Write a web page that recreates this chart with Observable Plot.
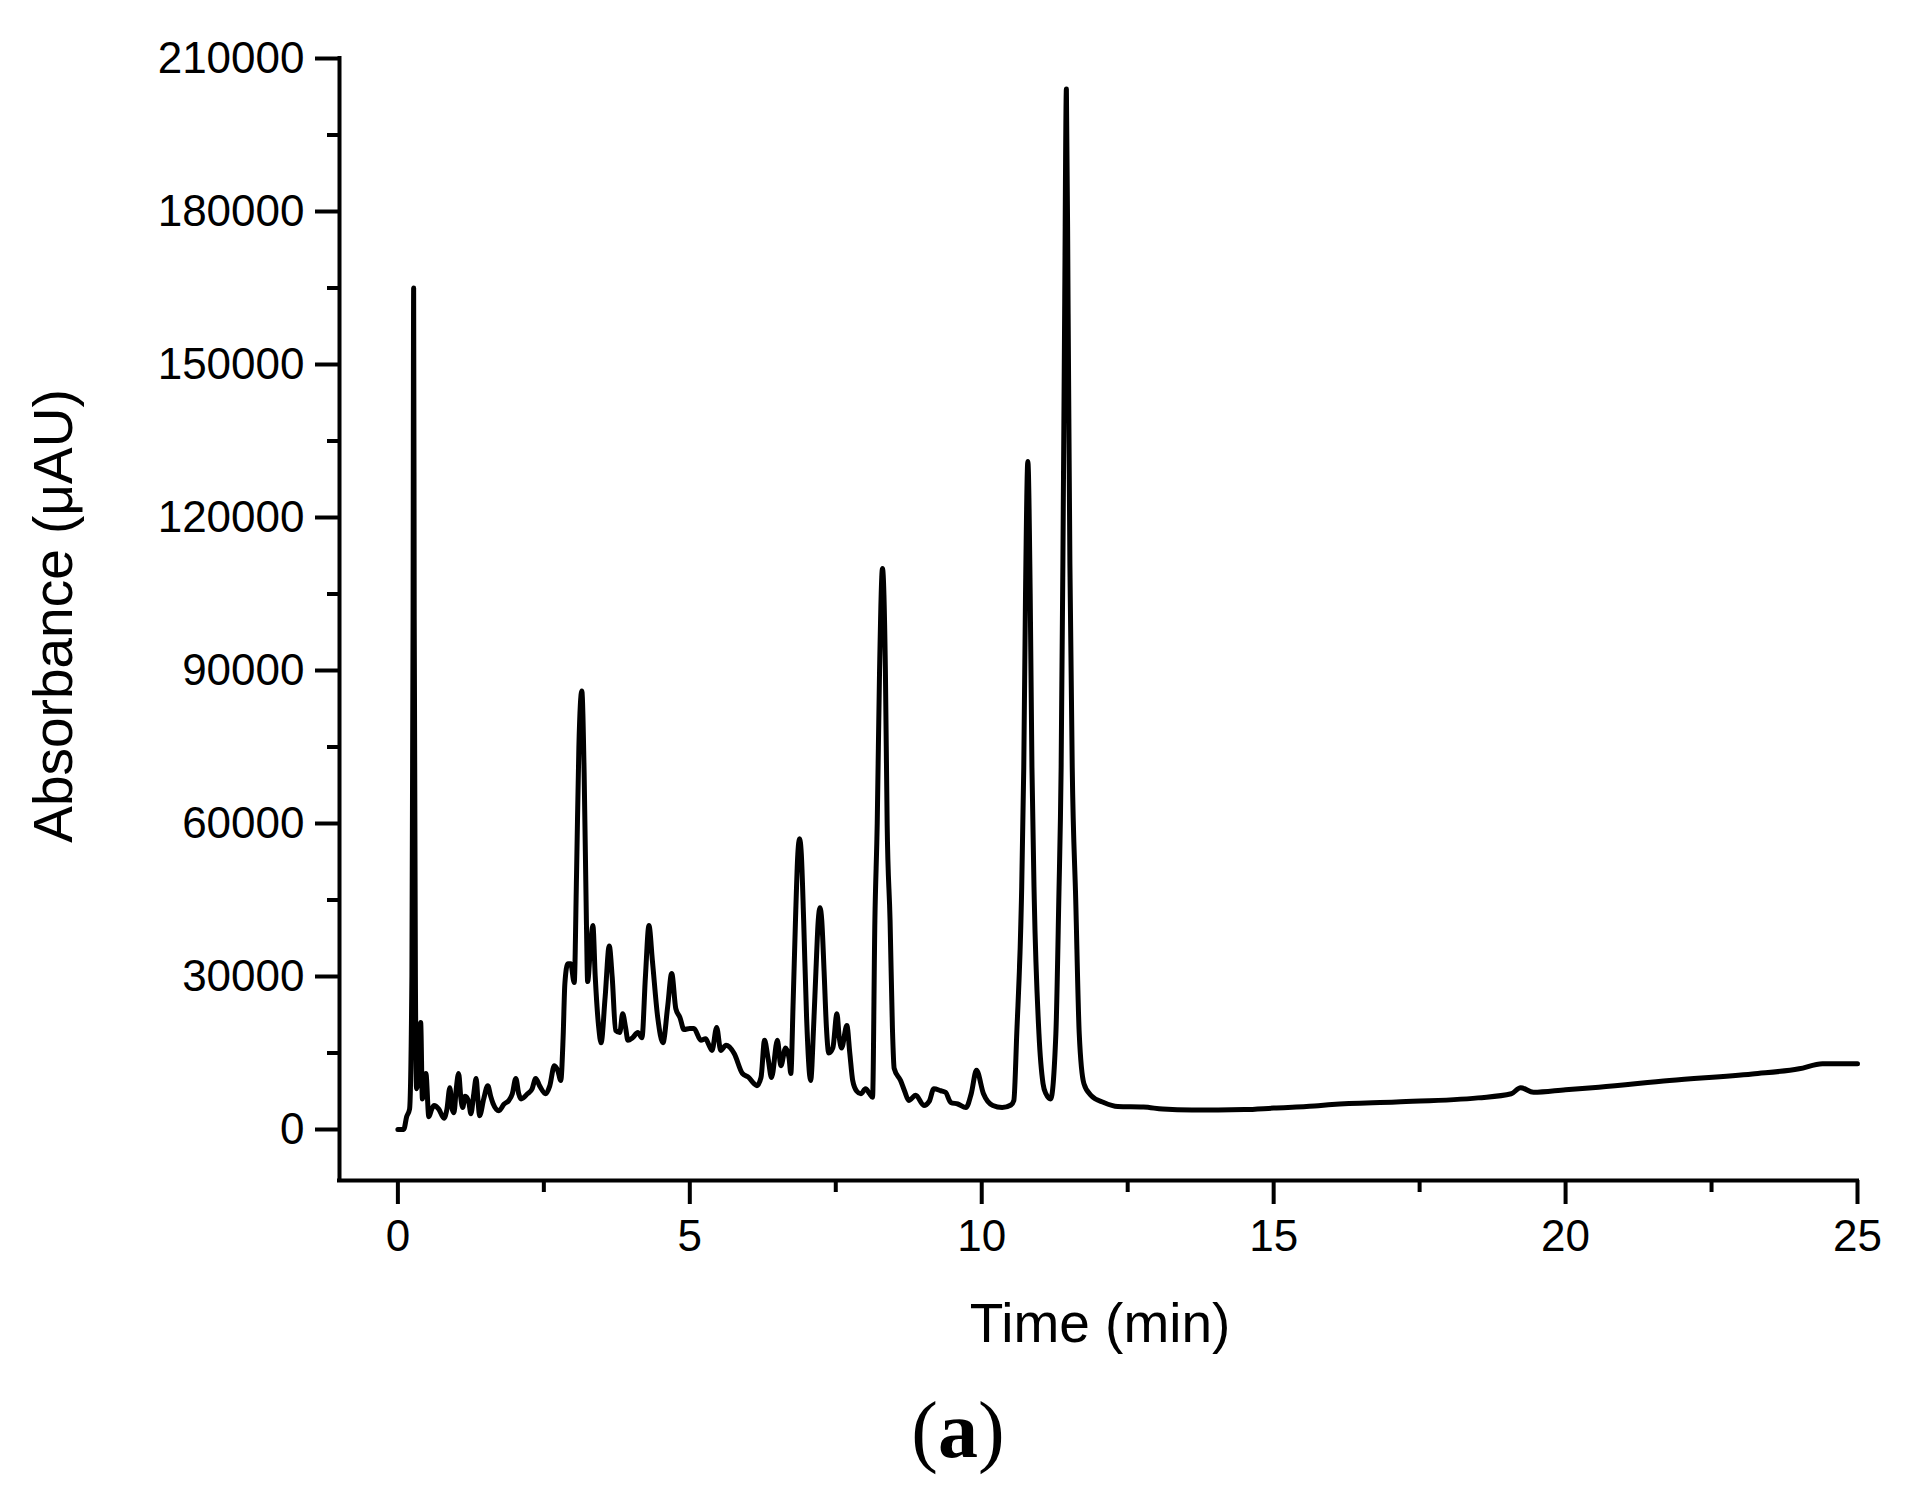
<!DOCTYPE html>
<html><head><meta charset="utf-8">
<script src="https://cdn.jsdelivr.net/npm/d3@7"></script>
<script src="https://cdn.jsdelivr.net/npm/@observablehq/plot@0.6"></script>
<style>
body{margin:0;background:#fff;}
#chart svg{display:block;}
#cap{width:1916px;text-align:center;font-family:"Liberation Serif","Times New Roman",serif;font-size:80px;line-height:80px;height:106px;color:#000;}
#cap b{font-weight:bold;}
</style></head><body>
<div id="chart"></div>
<div id="cap">(<b>a</b>)</div>
<script>
// Retention time (min)
const time = [
 0.00,0.10,0.15,0.20,0.24,0.26,0.27,0.28,0.30,0.32,0.36,0.39,0.42,0.45,0.48,0.53,0.58,0.62,0.70,0.79,
 0.84,0.89,0.93,0.96,1.00,1.04,1.08,1.11,1.15,1.18,1.22,1.25,1.30,1.34,1.37,1.40,1.47,1.54,1.59,1.63,
 1.73,1.82,1.90,1.96,2.02,2.07,2.11,2.22,2.30,2.36,2.43,2.53,2.60,2.68,2.74,2.79,2.83,2.86,2.91,2.96,
 3.02,3.06,3.10,3.15,3.19,3.23,3.25,3.30,3.34,3.38,3.44,3.48,3.55,3.62,3.67,3.73,3.80,3.85,3.90,3.94,
 4.02,4.11,4.18,4.24,4.30,4.36,4.45,4.54,4.62,4.69,4.76,4.83,4.90,5.00,5.07,5.19,5.27,5.33,5.38,5.46,
 5.53,5.62,5.76,5.90,6.01,6.10,6.15,6.22,6.28,6.34,6.40,6.50,6.56,6.64,6.70,6.73,6.77,6.81,6.85,6.88,
 6.91,6.95,7.00,7.07,7.12,7.16,7.20,7.23,7.26,7.30,7.34,7.38,7.45,7.52,7.56,7.60,7.69,7.74,7.79,7.86,
 7.93,8.01,8.08,8.13,8.17,8.21,8.25,8.30,8.35,8.38,8.43,8.47,8.50,8.61,8.68,8.75,8.87,9.01,9.10,9.18,
 9.30,9.38,9.47,9.59,9.73,9.82,9.91,10.03,10.19,10.35,10.50,10.55,10.60,10.68,10.72,10.75,10.79,10.83,10.86,10.90,
 10.98,11.05,11.10,11.18,11.27,11.32,11.36,11.39,11.42,11.45,11.48,11.51,11.55,11.61,11.67,11.75,11.87,12.09,12.33,12.77,
 13.10,13.60,14.50,15.00,15.70,16.00,17.10,18.50,19.07,19.23,19.45,20.00,20.57,21.78,23.20,24.00,24.40,25.00
];
// Absorbance (µAU)
const absorbance = [
 0,0,2500,4000,30000,100000,165000,100000,30000,8000,12000,21000,6000,9000,11000,2500,4000,4700,4000,2200,
 4000,8200,4000,3300,8000,11000,6000,4300,6500,6300,5000,3100,7000,10000,6000,2700,6000,8600,6500,5100,
 3700,5000,5700,7000,10000,7000,6000,7000,8000,10000,8500,7000,8500,12500,11500,9600,18000,28600,32500,32500,
 28800,50000,75000,86000,70000,40000,29000,36000,40000,30000,20000,17000,26000,36000,30000,19400,19000,22700,20000,17500,
 18000,19000,18000,30000,40000,33000,22000,17000,24000,30600,23700,22000,19600,19800,19800,17500,17800,16500,15500,20000,
 15500,16500,14900,11000,10200,9000,8600,10200,17500,14000,10200,17500,12500,16000,14000,11000,25000,41000,54000,57000,
 54000,41000,22000,9600,20000,31000,41000,43500,41000,31000,20000,15000,16000,22700,18000,16000,20400,15000,9600,7500,
 7000,8000,7000,6300,41000,60000,90000,110000,90000,60000,41000,20000,12000,9600,7500,5700,6700,4700,5500,8000,
 7600,7300,5300,5000,4300,7000,11600,7000,4700,4300,4800,5700,18800,45000,71000,105000,131000,105000,71000,45000,
 18800,9000,7000,6000,18800,45000,71000,111000,160000,204000,160000,111000,71000,45000,18800,9000,6700,5300,4500,4400,
 4000,3800,3900,4200,4600,4900,5400,6200,7000,8200,7300,7800,8300,9600,10900,11900,12900,12900
];
const xTicks = [0, 5, 10, 15, 20, 25];
const xMinorTicks = [2.5, 7.5, 12.5, 17.5, 22.5];
const yTicks = [0, 30000, 60000, 90000, 120000, 150000, 180000, 210000];
const yMinorTicks = [15000, 45000, 75000, 105000, 135000, 165000, 195000];
const xDomain = [-1, 25];
const yDomain = [-10000, 210000];
const xLabel = "Time (min)";
const yLabel = "Absorbance (\u03bcAU)";

const data = time.map((t, i) => ({t, v: absorbance[i]}));
const font = "'Liberation Sans', Arial, sans-serif";

const plot = Plot.plot({
  width: 1907, height: 1390,
  marginLeft: 339, marginRight: 50, marginTop: 58, marginBottom: 210,
  style: {fontFamily: font, fontSize: "44px", color: "#000", background: "#fff", overflow: "visible", display: "block"},
  x: {domain: xDomain, label: null},
  y: {domain: yDomain, label: null},
  marks: [
    Plot.axisX(xTicks, {anchor: "bottom", tickSize: 24, tickPadding: 15, strokeWidth: 4, fontSize: 44, label: null, tickFormat: d3.format("d")}),
    Plot.axisX(xMinorTicks, {anchor: "bottom", tickSize: 12, strokeWidth: 4, label: null, tickFormat: () => ""}),
    Plot.axisY(yTicks, {anchor: "left", tickSize: 24, tickPadding: 11, strokeWidth: 4, fontSize: 44, label: null, tickFormat: d3.format("d")}),
    Plot.axisY(yMinorTicks, {anchor: "left", tickSize: 12, strokeWidth: 4, label: null, tickFormat: () => ""}),
    Plot.ruleX([xDomain[0]], {y1: yDomain[0], y2: yDomain[1], stroke: "#000", strokeWidth: 4, strokeLinecap: "square"}),
    Plot.ruleY([yDomain[0]], {x1: xDomain[0], x2: xDomain[1], stroke: "#000", strokeWidth: 4, strokeLinecap: "square"}),
    Plot.line(data, {x: "t", y: "v", stroke: "#000", strokeWidth: 5, curve: "monotone-x", strokeLinejoin: "round", strokeLinecap: "round"})
  ]
});

const svg = d3.select(plot);
svg.append("text")
  .attr("transform", "translate(72,616) rotate(-90)")
  .attr("text-anchor", "middle")
  .attr("font-family", font).attr("font-size", 55).attr("fill", "#000")
  .text(yLabel);
svg.append("text")
  .attr("x", 1100).attr("y", 1342)
  .attr("text-anchor", "middle")
  .attr("font-family", font).attr("font-size", 55).attr("fill", "#000")
  .text(xLabel);

document.getElementById("chart").appendChild(plot);
</script>
</body></html>
